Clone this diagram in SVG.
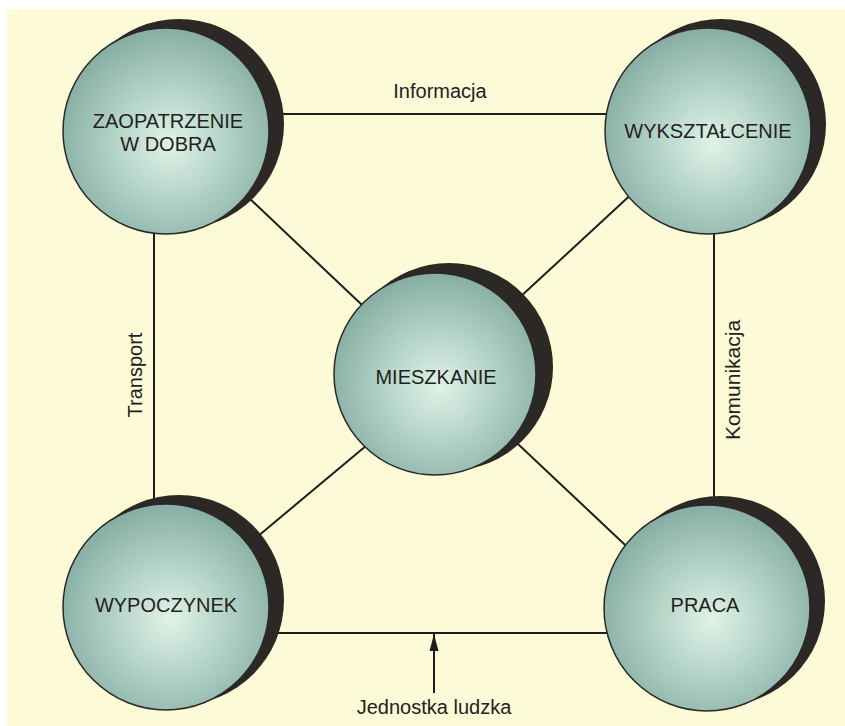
<svg xmlns="http://www.w3.org/2000/svg" width="845" height="726" viewBox="0 0 845 726">
  <defs>
    <radialGradient id="sphereFill" cx="52%" cy="56%" r="55%">
      <stop offset="0" stop-color="#e0f2e8"/>
      <stop offset="0.45" stop-color="#b8d6ca"/>
      <stop offset="1" stop-color="#88afa5"/>
    </radialGradient>
    <marker id="arrowHead" viewBox="0 0 17 20" refX="17" refY="10" markerWidth="17" markerHeight="20" markerUnits="userSpaceOnUse" orient="auto">
      <path d="M0,5.5 L17,10 L0,14.5 Z" fill="#1e1e1e"/>
    </marker>
  </defs>
  <style>
    .line { stroke: #1e1e1e; stroke-width: 2; fill: none; }
    .shadow { fill: #2b2825; }
    .ball { fill: url(#sphereFill); stroke: #2b2825; stroke-width: 1.5; }
    .label { font-family: "Liberation Sans", Arial, sans-serif; font-size: 20px; fill: #231f20; text-anchor: middle; }
  </style>

  <!-- page background -->
  <rect x="0" y="0" width="845" height="726" fill="#ffffff"/>
  <rect x="7" y="9" width="838" height="717" fill="#fcfad7"/>

  <!-- connectors -->
  <g id="connectors">
    <line class="line" x1="270" y1="114" x2="610" y2="114"/>
    <line class="line" x1="154" y1="225" x2="154" y2="505"/>
    <line class="line" x1="714" y1="225" x2="714" y2="505"/>
    <line class="line" x1="265" y1="633" x2="610" y2="633"/>
    <line class="line" x1="230" y1="180" x2="380" y2="322"/>
    <line class="line" x1="650" y1="177" x2="505" y2="311"/>
    <line class="line" x1="385" y1="430" x2="245" y2="547"/>
    <line class="line" x1="500" y1="427" x2="640" y2="559"/>
    <line class="line" x1="434" y1="693" x2="434" y2="634" marker-end="url(#arrowHead)"/>
    <text class="label" x="440" y="98">Informacja</text>
    <text class="label" transform="translate(142,375) rotate(-90)">Transport</text>
    <text class="label" transform="translate(740,380) rotate(-90)" style="font-size:21px">Komunikacja</text>
    <text class="label" x="434" y="714">Jednostka ludzka</text>
  </g>

  <!-- nodes -->
  <g id="node-zaopatrzenie">
    <circle class="shadow" cx="179" cy="124" r="105"/>
    <circle class="ball" cx="166" cy="131" r="103"/>
    <text class="label" x="168" y="128">ZAOPATRZENIE</text>
    <text class="label" x="168" y="151">W DOBRA</text>
  </g>

  <g id="node-wyksztalcenie">
    <circle class="shadow" cx="721" cy="124" r="105"/>
    <circle class="ball" cx="708" cy="131" r="103"/>
    <text class="label" x="708" y="138">WYKSZTAŁCENIE</text>
  </g>

  <g id="node-mieszkanie">
    <circle class="shadow" cx="449" cy="367" r="104"/>
    <circle class="ball" cx="435" cy="374" r="101"/>
    <text class="label" x="436" y="384">MIESZKANIE</text>
  </g>

  <g id="node-wypoczynek">
    <circle class="shadow" cx="179" cy="600" r="105"/>
    <circle class="ball" cx="166" cy="607" r="103"/>
    <text class="label" x="166" y="612">WYPOCZYNEK</text>
  </g>

  <g id="node-praca">
    <circle class="shadow" cx="720" cy="601" r="105"/>
    <circle class="ball" cx="707" cy="608" r="103"/>
    <text class="label" x="705" y="612">PRACA</text>
  </g>
</svg>
